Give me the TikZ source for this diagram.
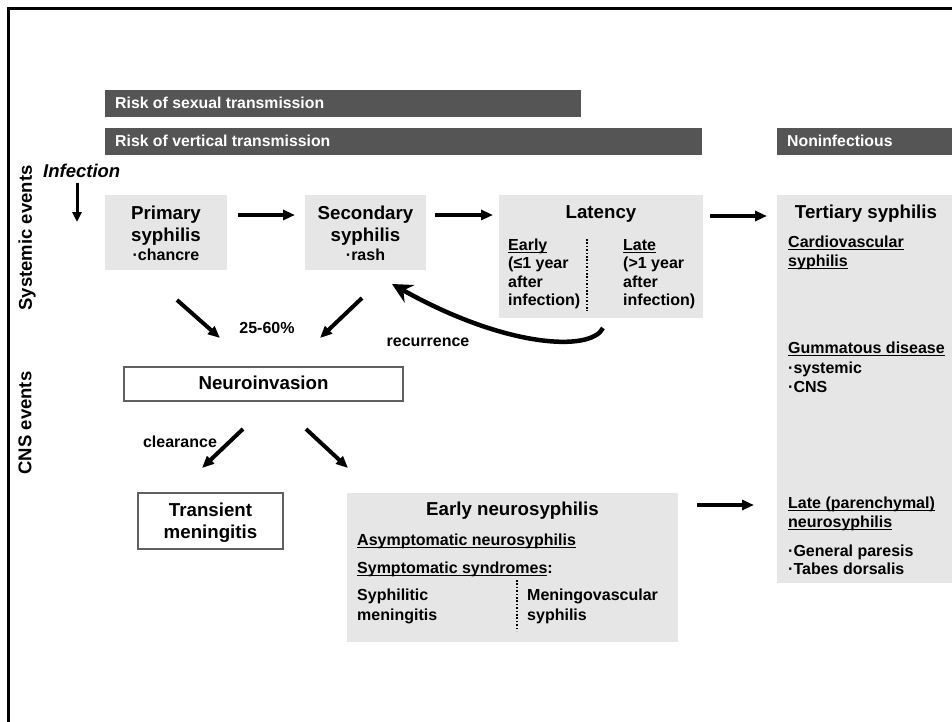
\documentclass[tikz,border=0pt]{standalone}
\usepackage{fontspec}
\setmainfont{Liberation Sans}
\usetikzlibrary{arrows.meta,calc}
\definecolor{bardark}{HTML}{555555}
\definecolor{boxlight}{HTML}{E6E6E6}
\definecolor{edgegray}{HTML}{606060}
\newcommand\myul[1]{\setbox0\hbox{#1}\rlap{\vrule height -1.9pt depth 3.1pt width \wd0}\box0}
\begin{document}
\begin{tikzpicture}[x=1pt,y=-1pt,
  bar/.style={fill=bardark, draw=none, inner sep=0, outer sep=0, anchor=north west},
  lbox/.style={fill=boxlight, draw=none, inner sep=0, outer sep=0, anchor=north west},
  wbox/.style={fill=white, draw=edgegray, line width=1.3pt, inner sep=0, outer sep=0, anchor=north west},
  ttl/.style={font=\bfseries\fontsize{18.7}{21}\selectfont, inner sep=0, anchor=base},
  txt/.style={font=\bfseries\fontsize{16}{18.5}\selectfont, inner sep=0, anchor=base west},
  ctxt/.style={font=\bfseries\fontsize{16}{18.5}\selectfont, inner sep=0, anchor=base},
  bartxt/.style={font=\bfseries\fontsize{15.8}{18}\selectfont, text=white, inner sep=0, anchor=base west},
  arr/.style={line width=4pt, -{Triangle[length=12pt,width=10pt]}},
  dotline/.style={line width=2pt, dash pattern=on 1.6pt off 1.8pt},
]
\useasboundingbox (0,0) rectangle (952,722);
\fill[white] (0,0) rectangle (952,722);
% frame
\draw[line width=2.6pt] (8.5,722) -- (8.5,8.5) -- (952,8.5);

% bars
\node[bar, minimum width=476pt, minimum height=27pt] (bar1) at (105,90) {};
\node[bartxt] (bar1t) at (115,109) {Risk of sexual transmission};
\node[bar, minimum width=597pt, minimum height=27pt] (bar2) at (105,128) {};
\node[bartxt] (bar2t) at (115,147) {Risk of vertical transmission};
\node[bar, minimum width=175pt, minimum height=27pt] (bar3) at (777,128) {};
\node[bartxt] (bar3t) at (787,147) {Noninfectious};

% side labels
\node[rotate=90, font=\bfseries\fontsize{18.5}{21}\selectfont, inner sep=0] (sysev) at (27,238) {Systemic events};
\node[rotate=90, font=\bfseries\fontsize{18.5}{21}\selectfont, inner sep=0] (cnsev) at (25,423) {CNS events};

% infection
\node[font=\bfseries\itshape\fontsize{18.5}{21}\selectfont, inner sep=0, anchor=base west] (inf) at (43,178) {Infection};
\coordinate (infA) at (77,183);
\coordinate (infB) at (77,222);
\draw[line width=3pt, -{Triangle[length=10pt,width=9pt]}] (infA) -- (infB);

% primary
\node[lbox, minimum width=122pt, minimum height=75pt] (prim) at (105,195) {};
\node[ttl] (primt1) at (166,219) {Primary};
\node[ttl] (primt2) at (166,241) {syphilis};
\node[ctxt] (primt3) at (166,260) {·chancre};

% secondary
\node[lbox, minimum width=121pt, minimum height=75pt] (sec) at (305,195) {};
\node[ttl] (sect1) at (365.5,219) {Secondary};
\node[ttl] (sect2) at (365.5,241) {syphilis};
\node[ctxt] (sect3) at (365.5,260) {·rash};

% latency
\node[lbox, minimum width=204pt, minimum height=123pt] (lat) at (499,195) {};
\node[ttl] (latt) at (601,218) {Latency};
\node[txt] (late1) at (508,250) {\myul{Early}};
\node[txt] (late2) at (508,268.5) {(≤1 year};
\node[txt] (late3) at (508,287) {after};
\node[txt] (late4) at (508,305.5) {infection)};
\node[txt] (latl1) at (623,250) {\myul{Late}};
\node[txt] (latl2) at (623,268.5) {(>1 year};
\node[txt] (latl3) at (623,287) {after};
\node[txt] (latl4) at (623,305.5) {infection)};
\coordinate (latdA) at (587,239);
\coordinate (latdB) at (587,311);
\draw[dotline] (latdA) -- (latdB);

% tertiary
\node[lbox, minimum width=175pt, minimum height=388pt] (ter) at (777,195) {};
\node[ttl] (tert) at (866,218) {Tertiary syphilis};
\node[txt] (ter1) at (788,247) {\myul{Cardiovascular}};
\node[txt] (ter2) at (788,266) {\myul{syphilis}};
\node[txt] (ter3) at (788,353) {\myul{Gummatous disease}};
\node[txt] (ter4) at (788,373) {·systemic};
\node[txt] (ter5) at (788,392) {·CNS};
\node[txt] (ter6) at (788,508) {\myul{Late (parenchymal)}};
\node[txt] (ter7) at (788,527) {\myul{neurosyphilis}};
\node[txt] (ter8) at (788,556) {·General paresis};
\node[txt] (ter9) at (788,574) {·Tabes dorsalis};

% neuroinvasion
\node[wbox, minimum width=279pt, minimum height=34pt] (neuro) at (124,367) {};
\node[ttl] (neurot) at (263.5,389) {Neuroinvasion};

% transient meningitis
\node[wbox, minimum width=145pt, minimum height=56pt] (trans) at (138,493) {};
\node[ttl] (transt1) at (210.5,516) {Transient};
\node[ttl] (transt2) at (210.5,538) {meningitis};

% early neurosyphilis
\node[lbox, minimum width=331pt, minimum height=149pt] (early) at (347,493) {};
\node[ttl] (earlyt) at (512.5,515) {Early neurosyphilis};
\node[txt] (early1) at (357,545) {\myul{Asymptomatic neurosyphilis}};
\node[txt] (early2) at (357,573) {\myul{Symptomatic syndromes}:};
\node[txt] (early3) at (357,600) {Syphilitic};
\node[txt] (early4) at (357,620) {meningitis};
\node[txt] (early5) at (527,600) {Meningovascular};
\node[txt] (early6) at (527,620) {syphilis};
\coordinate (earlydA) at (517,580);
\coordinate (earlydB) at (517,631);
\draw[dotline] (earlydA) -- (earlydB);

% labels
\node[ctxt] (pct) at (267,333) {25-60\%};
\node[ctxt] (recur) at (428,346) {recurrence};
\node[ctxt] (clear) at (180,447) {clearance};

% arrows
\draw[arr] ($(prim.north east)+(11,20)$) -- ($(sec.north west)+(-10,20)$);
\draw[arr] ($(sec.north east)+(9,20)$) -- ($(lat.north west)+(-6,20)$);
\draw[arr] ($(lat.north east)+(7,21)$) -- ($(ter.north west)+(-10,21)$);
\draw[arr] ($(prim.south)+(11,30)$) -- ($(neuro.north)+(-43.5,-29)$);
\draw[arr] ($(sec.south)+(-3.5,28)$) -- ($(neuro.north)+(56.5,-29)$);
\draw[arr] ($(neuro.south)+(-20.5,28)$) -- ($(trans.north)+(-8.5,-25)$);
\draw[arr] ($(neuro.south)+(42.5,28)$) -- ($(early.north west)+(1,-25)$);
\draw[arr] ($(early.north east)+(19,12)$) -- ($(ter.north west)+(-23,310)$);
% recurrence curve
\draw[line width=4.5pt, -{Stealth[length=20pt,width=20pt,inset=7pt]}]
  ($(lat.south)+(2,10)$) .. controls ($(lat.south)+(-10,34)$) and ($(sec.south east)+(80,78)$) .. ($(sec.south east)+(-34,14)$);
\end{tikzpicture}
\end{document}
